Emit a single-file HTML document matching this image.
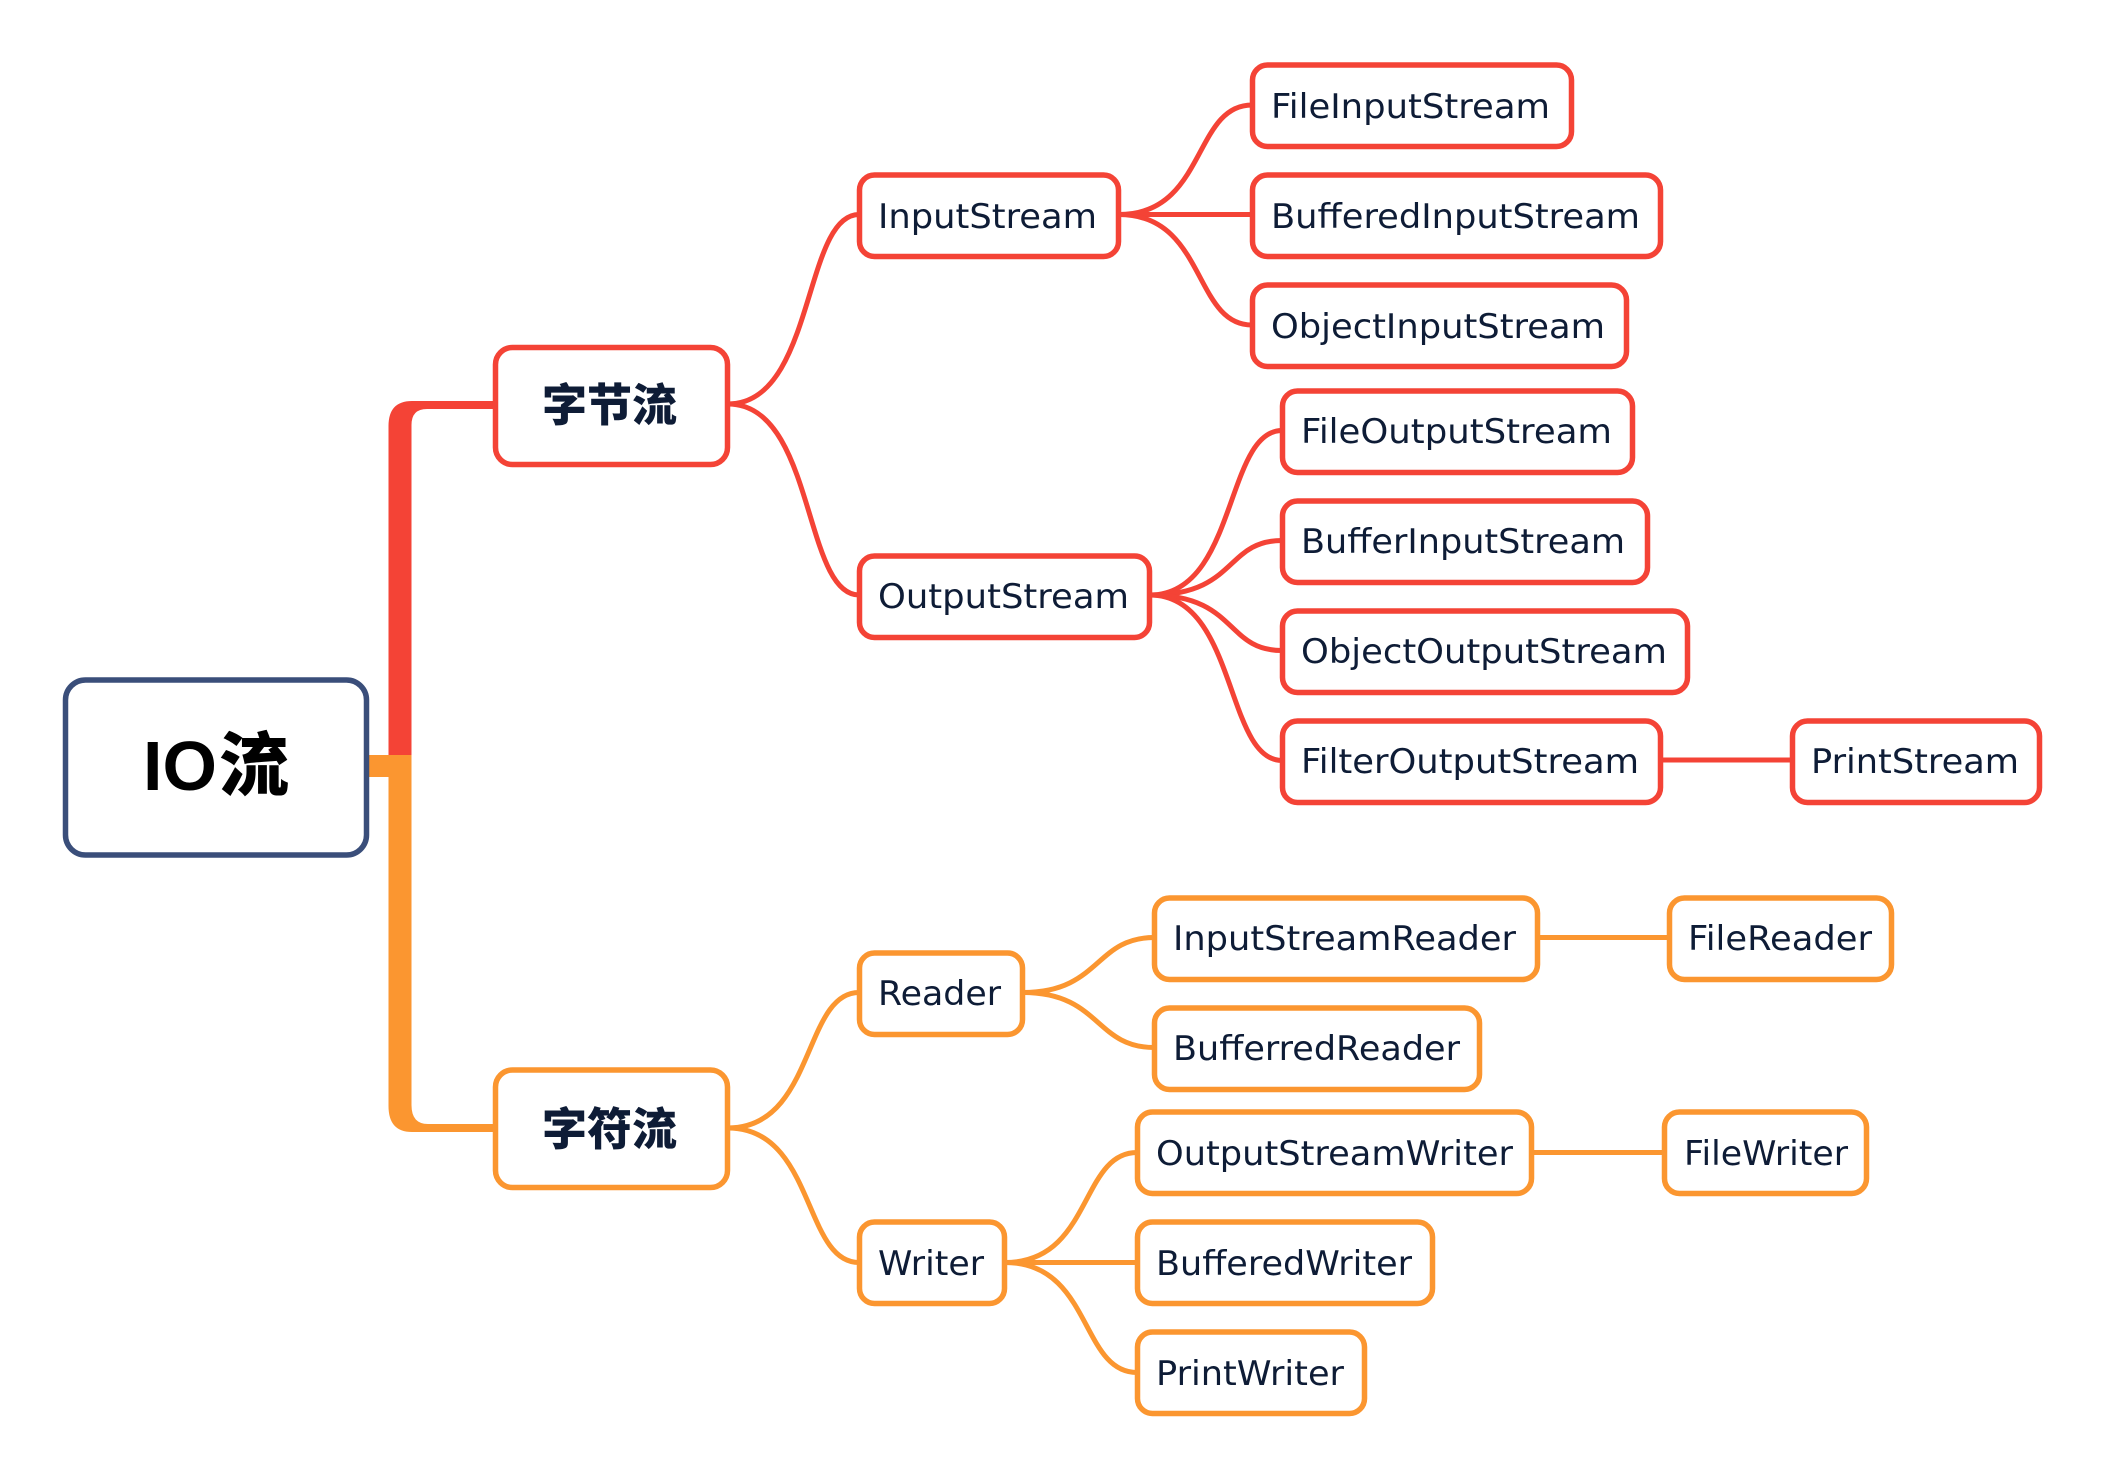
<!DOCTYPE html>
<html><head><meta charset="utf-8"><style>html,body{margin:0;padding:0;background:#fff}svg{display:block}
.r rect{stroke:#F44336}.o rect{stroke:#FB9630}
rect{fill:#fff;stroke-width:5.5}
path.c{fill:none;stroke-width:5}
.r path.c{stroke:#F44336}.o path.c{stroke:#FB9630}
text{font-family:"DejaVu Sans","Liberation Sans",sans-serif;font-size:34px;fill:#0E1C36}
text.z{font-family:"Liberation Sans","Noto Sans CJK SC",sans-serif;font-size:45px;font-weight:900}
</style></head><body>
<svg width="2102" height="1477" viewBox="0 0 2102 1477" xmlns="http://www.w3.org/2000/svg">
<rect x="0" y="0" width="2102" height="1477" style="stroke:none;fill:#fff"/>
<path d="M497,401H412Q388.5,401 388.5,426V768H411.5V425Q411.5,409 427,409H497Z" fill="#F44336"/>
<path d="M369,755H411.5V1105Q411.5,1124 428,1124H497V1132H412Q388.5,1132 388.5,1106V777H369Z" fill="#FB9630"/>
<g class="r">
<path class="c" d="M728,404C815,404 803,214.500 859,214.500"/>
<path class="c" d="M728,404C815,404 803,595 859,595"/>
<path class="c" d="M1119,214.500C1206,214.500 1193,105 1252,105"/>
<path class="c" d="M1119,214.500H1252"/>
<path class="c" d="M1119,214.500C1206,214.500 1193,325 1252,325"/>
<path class="c" d="M1150,595C1237,595 1225,430.500 1282,430.500"/>
<path class="c" d="M1150,595C1237,595 1225,540.500 1282,540.500"/>
<path class="c" d="M1150,595C1237,595 1225,650.500 1282,650.500"/>
<path class="c" d="M1150,595C1237,595 1225,760.500 1282,760.500"/>
<path class="c" d="M1661,760H1792"/>
<rect x="495.500" y="347.500" width="232" height="117" rx="17"/>
<rect x="859.500" y="175" width="259" height="81.500" rx="15"/>
<rect x="859.500" y="556" width="290" height="81.500" rx="15"/>
<rect x="1252.500" y="65" width="319" height="81.500" rx="15"/>
<rect x="1252.500" y="175" width="408" height="81.500" rx="15"/>
<rect x="1252.500" y="285" width="374" height="81.500" rx="15"/>
<rect x="1282.500" y="391" width="350" height="81.500" rx="15"/>
<rect x="1282.500" y="501" width="365" height="81.500" rx="15"/>
<rect x="1282.500" y="611" width="405" height="81.500" rx="15"/>
<rect x="1282.500" y="721" width="378" height="81.500" rx="15"/>
<rect x="1792.500" y="721" width="247" height="81.500" rx="15"/>
</g>
<g class="o">
<path class="c" d="M728,1128C815,1128 803,992.500 859,992.500"/>
<path class="c" d="M728,1128C815,1128 803,1262.500 859,1262.500"/>
<path class="c" d="M1023,992.500C1100,992.500 1095,937.500 1154,937.500"/>
<path class="c" d="M1023,992.500C1100,992.500 1095,1047.500 1154,1047.500"/>
<path class="c" d="M1005,1262.500C1092,1262.500 1080,1152.500 1137,1152.500"/>
<path class="c" d="M1005,1262.500H1137"/>
<path class="c" d="M1005,1262.500C1092,1262.500 1080,1372.500 1137,1372.500"/>
<path class="c" d="M1538,937.500H1669"/>
<path class="c" d="M1532,1152.500H1664"/>
<rect x="495.500" y="1070" width="232" height="117.500" rx="17"/>
<rect x="859.500" y="953" width="163" height="81.500" rx="15"/>
<rect x="859.500" y="1222" width="145" height="81.500" rx="15"/>
<rect x="1154.500" y="898" width="383" height="81.500" rx="15"/>
<rect x="1669.500" y="898" width="222" height="81.500" rx="15"/>
<rect x="1154.500" y="1008" width="325" height="81.500" rx="15"/>
<rect x="1137.500" y="1112" width="394" height="81.500" rx="15"/>
<rect x="1664.500" y="1112" width="202" height="81.500" rx="15"/>
<rect x="1137.500" y="1222" width="295" height="81.500" rx="15"/>
<rect x="1137.500" y="1332" width="227" height="81.500" rx="15"/>
</g>
<rect x="65.500" y="680" width="301" height="175" rx="20" style="stroke:#3A4E7A"/>
<text x="143" y="790" style="font-family:'Liberation Sans','Noto Sans CJK SC',sans-serif;font-size:70px;font-weight:900;fill:#000">IO<tspan x="219">流</tspan></text>
<text class="z" x="542" y="421">字节流</text>
<text class="z" x="542" y="1145">字符流</text>
<text x="878" y="228" textLength="219" lengthAdjust="spacingAndGlyphs">InputStream</text>
<text x="878" y="608" textLength="251" lengthAdjust="spacingAndGlyphs">OutputStream</text>
<text x="1271" y="118" textLength="279" lengthAdjust="spacingAndGlyphs">FileInputStream</text>
<text x="1271" y="228" textLength="369" lengthAdjust="spacingAndGlyphs">BufferedInputStream</text>
<text x="1271" y="338" textLength="334" lengthAdjust="spacingAndGlyphs">ObjectInputStream</text>
<text x="1301" y="443" textLength="311" lengthAdjust="spacingAndGlyphs">FileOutputStream</text>
<text x="1301" y="553" textLength="324" lengthAdjust="spacingAndGlyphs">BufferInputStream</text>
<text x="1301" y="663" textLength="366" lengthAdjust="spacingAndGlyphs">ObjectOutputStream</text>
<text x="1301" y="773" textLength="338" lengthAdjust="spacingAndGlyphs">FilterOutputStream</text>
<text x="1811" y="773" textLength="208" lengthAdjust="spacingAndGlyphs">PrintStream</text>
<text x="878" y="1005" textLength="123" lengthAdjust="spacingAndGlyphs">Reader</text>
<text x="1173" y="950" textLength="343" lengthAdjust="spacingAndGlyphs">InputStreamReader</text>
<text x="1688" y="950" textLength="184" lengthAdjust="spacingAndGlyphs">FileReader</text>
<text x="1173" y="1060" textLength="287" lengthAdjust="spacingAndGlyphs">BufferredReader</text>
<text x="878" y="1275" textLength="106" lengthAdjust="spacingAndGlyphs">Writer</text>
<text x="1156" y="1165" textLength="357" lengthAdjust="spacingAndGlyphs">OutputStreamWriter</text>
<text x="1684" y="1165" textLength="164" lengthAdjust="spacingAndGlyphs">FileWriter</text>
<text x="1156" y="1275" textLength="256" lengthAdjust="spacingAndGlyphs">BufferedWriter</text>
<text x="1156" y="1385" textLength="188" lengthAdjust="spacingAndGlyphs">PrintWriter</text>
</svg>
</body></html>
